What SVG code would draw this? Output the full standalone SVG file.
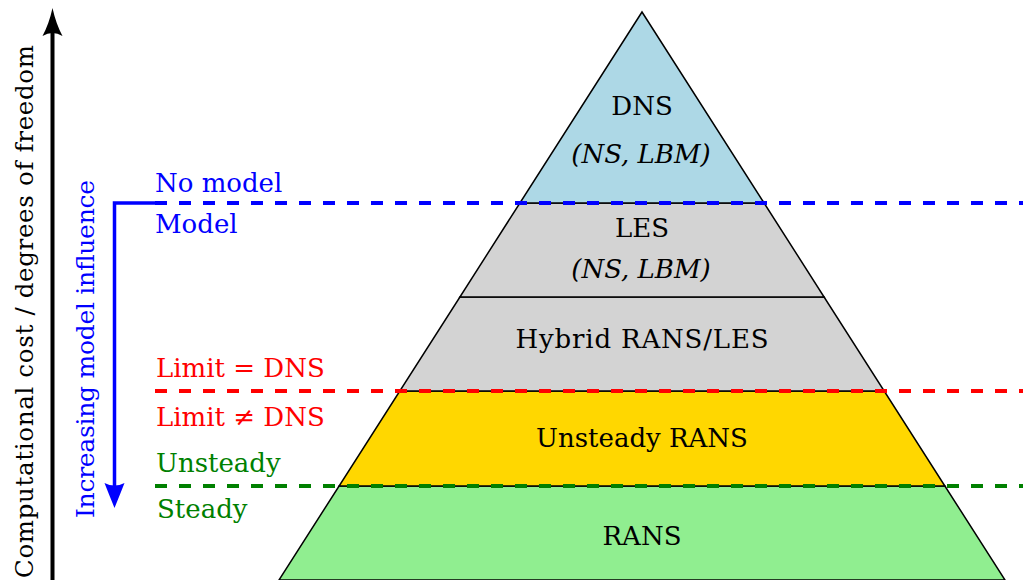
<svg xmlns="http://www.w3.org/2000/svg" width="1023" height="580" viewBox="0 0 1023 580">
<style>
text{font-family:'DejaVu Serif','Liberation Serif',serif;font-size:26px}
.c{text-anchor:middle;fill:#000}
.it{font-style:italic}
.layer{stroke:#000;stroke-width:1.5;stroke-linejoin:miter}
.dash{fill:none;stroke-width:4;stroke-dasharray:12 12}
.blue{fill:#0000FF}
.red{fill:#FF0000}
.green{fill:#008000}
</style>
<rect width="1023" height="580" fill="#fff"/>
<g id="pyramid">
<g id="rans"><polygon class="layer" fill="#90EE90" points="339.1,486 944.9,486 1005,580 279,580"/><text class="c" x="642" y="545">RANS</text></g>
<g id="unsteady-rans"><polygon class="layer" fill="#FFD700" points="399.8,391 884.2,391 944.9,486 339.1,486"/><text class="c" x="642" y="447">Unsteady RANS</text></g>
<g id="hybrid"><polygon class="layer" fill="#D3D3D3" points="459.9,297 824.1,297 884.2,391 399.8,391"/><text class="c" x="642" y="348" textLength="253" lengthAdjust="spacing">Hybrid RANS/LES</text></g>
<g id="les"><polygon class="layer" fill="#D3D3D3" points="519.9,203 764.1,203 824.1,297 459.9,297"/><text class="c" x="642" y="237">LES</text><text class="c it" x="641" y="278">(NS, LBM)</text></g>
<g id="dns"><polygon class="layer" fill="#ADD8E6" points="642,12 764.1,203 519.9,203"/><text class="c" x="642" y="115">DNS</text><text class="c it" x="641" y="163">(NS, LBM)</text></g>
</g>
<g id="connectors">
<line class="dash" stroke="#0000FF" x1="155" y1="203" x2="1023" y2="203"/>
<line class="dash" stroke="#FF0000" x1="155" y1="391" x2="1023" y2="391"/>
<line class="dash" stroke="#008000" x1="155" y1="486" x2="1023" y2="486"/>
<polyline fill="none" stroke="#0000FF" stroke-width="3.5" points="160,203 114.5,203 114.5,492"/>
<path class="blue" d="M114.5,508 Q108,492 104.5,483 Q114.5,488 124.5,483 Q121,492 114.5,508 Z"/>
<line stroke="#000" stroke-width="4" x1="52.5" y1="580" x2="52.5" y2="28"/>
<path fill="#000" d="M52.5,8 Q56,24 62.5,36 Q52.5,30 42.5,36 Q49,24 52.5,8 Z"/>
</g>
<g id="labels">
<text x="155" y="192" class="blue">No model</text>
<text x="155" y="233" class="blue">Model</text>
<text x="156" y="377" class="red">Limit = DNS</text>
<text x="156" y="426" class="red">Limit ≠ DNS</text>
<text x="156" y="472" class="green">Unsteady</text>
<text x="157" y="518" class="green">Steady</text>
<text transform="translate(94,349) rotate(-90)" text-anchor="middle" class="blue" style="font-size:25px" textLength="338" lengthAdjust="spacing">Increasing model influence</text>
<text transform="translate(33,311.5) rotate(-90)" text-anchor="middle" fill="#000" style="font-size:24.5px" textLength="533" lengthAdjust="spacing">Computational cost / degrees of freedom</text>
</g>
</svg>
